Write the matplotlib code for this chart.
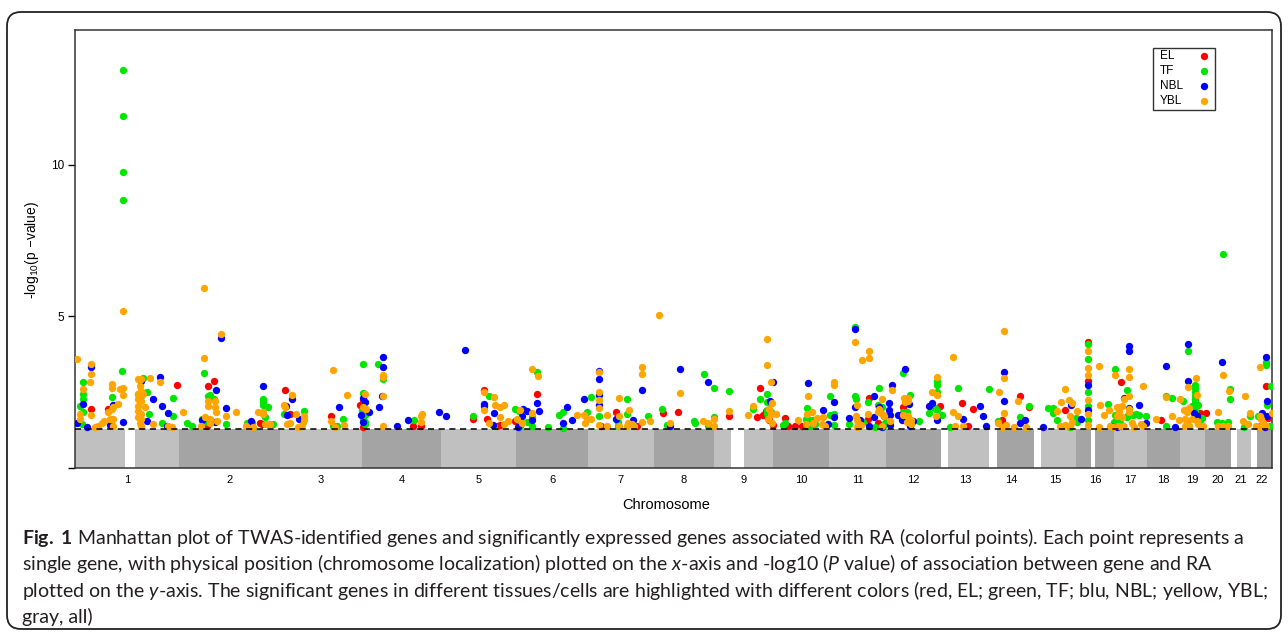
import numpy as np
import matplotlib
matplotlib.use('Agg')
import matplotlib.pyplot as plt
from matplotlib.patches import FancyBboxPatch
from matplotlib.transforms import IdentityTransform

plt.rcParams['font.family'] = ['Liberation Sans', 'DejaVu Sans']
plt.rcParams['mathtext.fontset'] = 'custom'
plt.rcParams['mathtext.rm'] = 'Lato'
plt.rcParams['mathtext.it'] = 'Lato:italic'
plt.rcParams['mathtext.bf'] = 'Lato:bold'

# chromosome sizes (Mb, hg19) and gene-free gaps (centromere / p-arm)
chrom_names = [str(i) for i in range(1, 23)]
chrom_len = [249.25, 243.20, 198.02, 191.15, 180.92, 171.12, 159.14, 146.36,
             141.21, 135.53, 135.01, 133.85, 115.17, 107.35, 102.53, 90.35,
             81.20, 78.08, 59.13, 63.03, 48.13, 51.30]
gaps = {1: (121, 144), 9: (39, 70), 13: (0, 17), 14: (0, 19), 15: (0, 17),
        16: (35, 46), 21: (0, 14), 22: (0, 16)}
threshold = 1.3          # -log10(0.05)
background_top = 1.27    # all genes (gray) stay under the threshold

# significant genes: (genome position in Mb, -log10 p)
el = [(38.5, 1.96), (80, 1.94), (245, 2.75), (335, 2.87), (321, 2.71), (318, 1.39), (445, 1.48),
      (449, 1.45), (505, 2.57), (517, 1.78), (615, 1.70), (686, 2.07), (693, 2.25), (692, 1.34),
      (814, 1.37), (832, 1.37), (957, 1.61), (984, 2.57), (992, 1.61), (1015, 1.37), (1023, 1.41),
      (1060, 1.54), (1113, 2.44), (1266, 1.38), (1301, 1.85), (1352, 1.37), (1416, 1.81),
      (1451, 1.83), (1575, 1.72), (1641, 1.67), (1649, 2.64), (1655, 1.74), (1663, 1.88),
      (1671, 1.58), (1681, 1.41), (1709, 1.64), (1715, 1.37), (1733, 1.37), (1750, 1.37),
      (1761, 1.39), (1912, 2.32), (1909, 1.63), (1933, 1.50), (1994, 2.00), (2082, 2.03),
      (2136, 2.13), (2150, 1.37), (2162, 1.96), (2230, 1.59), (2275, 2.36), (2297, 2.00),
      (2384, 1.92), (2438, 4.17), (2438, 2.86), (2518, 2.82), (2522, 1.37), (2614, 1.59),
      (2708, 1.80), (2722, 1.81), (2867, 2.70), (2872, 1.65)]

tf = [(115, 13.13), (115, 11.61), (115, 9.77), (115, 8.82),
      (18.5, 2.82), (18.5, 2.43), (18.5, 2.29), (12, 2.04), (18.5, 1.85), (16, 1.45),
      (90, 2.35), (112, 3.19), (163, 2.97), (152, 2.45), (160, 2.38), (174, 2.51), (179, 1.79),
      (209, 1.47), (237, 2.32), (237, 1.72), (269, 1.49), (282, 1.38),
      (311, 3.13), (325, 2.41), (321, 2.36), (335, 2.27), (305, 1.61), (317, 1.52), (363, 1.46),
      (413, 1.50), (425, 1.50),
      (452, 2.29), (452, 2.18), (452, 2.07), (465, 2.00), (457, 1.67), (477, 1.45), (503, 1.78),
      (550, 1.87), (548, 1.52), (646, 1.63), (622, 1.37), (630, 1.37),
      (692, 3.44), (692, 2.47), (690, 1.90), (700, 1.78), (692, 1.63), (698, 1.52), (698, 1.45),
      (730, 3.44), (741, 2.95), (816, 1.57),
      (957, 1.72), (997, 2.38), (1009, 1.39), (1060, 1.96), (1069, 1.88), (1071, 1.40),
      (1089, 1.52), (1113, 3.15), (1101, 1.67), (1101, 1.37), (1139, 1.36),
      (1165, 1.75), (1175, 1.85), (1175, 1.33), (1232, 1.83), (1242, 2.34), (1261, 1.70),
      (1308, 1.52), (1306, 1.40), (1328, 2.27), (1328, 1.77), (1380, 1.72),
      (1412, 1.96), (1424, 1.42), (1491, 1.56), (1492, 1.47), (1515, 3.10), (1524, 1.37),
      (1538, 2.63), (1538, 1.69), (1575, 2.54),
      (1633, 1.94), (1649, 2.29), (1665, 2.43), (1665, 2.18), (1673, 2.13), (1665, 1.92),
      (1675, 1.86), (1665, 1.78), (1709, 1.50), (1703, 1.43),
      (1762, 1.97), (1759, 1.61), (1767, 1.59), (1777, 1.59), (1769, 1.37), (1781, 1.45),
      (1816, 2.36), (1816, 1.74), (1827, 1.77), (1827, 1.41),
      (1864, 1.45), (1877, 4.66), (1877, 2.38), (1880, 2.29), (1896, 1.52), (1909, 2.16),
      (1926, 1.36), (1936, 2.65), (1933, 2.07), (1942, 2.00), (1950, 1.50), (1945, 1.39),
      (1953, 1.50),
      (1994, 3.13), (2010, 2.41), (1994, 1.83), (2003, 1.83), (2032, 1.56), (2056, 1.81),
      (2065, 2.00), (2070, 1.97), (2075, 1.92), (2075, 2.73), (2074, 2.52), (2075, 2.86),
      (2086, 1.74), (2125, 2.63), (2106, 1.36),
      (2200, 2.62), (2222, 1.56), (2275, 1.67), (2297, 2.05), (2342, 1.98), (2353, 1.98),
      (2355, 1.80), (2363, 1.59), (2394, 1.36), (2410, 1.64), (2412, 1.53),
      (2438, 4.10), (2438, 3.61), (2438, 2.49), (2438, 2.03), (2438, 1.57), (2487, 2.10),
      (2503, 3.28), (2503, 1.76), (2511, 1.65), (2501, 1.53), (2515, 1.49),
      (2533, 2.57), (2535, 1.76), (2533, 1.69), (2546, 1.76), (2554, 1.78), (2562, 1.74),
      (2578, 1.72), (2625, 2.38), (2625, 1.40), (2640, 2.30), (2668, 2.21), (2678, 3.85),
      (2696, 2.74), (2696, 2.63), (2696, 2.49), (2696, 2.38), (2696, 2.27), (2696, 2.16),
      (2696, 2.05), (2696, 1.88), (2688, 2.03), (2703, 2.07), (2713, 1.64), (2708, 1.52),
      (2763, 7.04), (2748, 1.52), (2760, 1.47), (2775, 1.52), (2780, 2.62), (2780, 2.29),
      (2814, 1.36), (2827, 1.72), (2847, 1.72), (2851, 1.40), (2867, 3.51), (2867, 3.39),
      (2879, 2.69), (2868, 2.07), (2877, 1.40)]

nbl = [(38.5, 3.32), (18.5, 2.10), (4, 1.50), (28, 1.34), (84, 1.41), (92, 2.09), (116, 1.52),
       (160, 2.88), (205, 2.99), (188, 2.27), (174, 1.55), (209, 2.04), (225, 1.81), (221, 1.39),
       (351, 4.27), (339, 2.58), (363, 1.97), (305, 1.57), (337, 1.52), (423, 1.55), (452, 2.69),
       (522, 2.27), (508, 2.05), (510, 1.74), (540, 1.61), (635, 2.00),
       (692, 2.32), (698, 2.16), (708, 1.85), (688, 1.74), (692, 1.52), (741, 3.65), (741, 3.33),
       (738, 2.36), (732, 2.00), (774, 1.37), (802, 1.59), (875, 1.83), (893, 1.72),
       (938, 3.89), (984, 2.12), (984, 2.03), (1009, 1.80), (1005, 1.41), (1079, 1.96),
       (1089, 1.88), (1075, 1.70), (1067, 1.34), (1113, 2.14), (1116, 1.88), (1101, 1.59),
       (1184, 2.00), (1174, 1.47), (1196, 1.59), (1224, 2.27), (1261, 3.20), (1261, 2.93),
       (1261, 2.40), (1262, 2.08), (1301, 1.61), (1342, 1.59), (1364, 2.58), (1432, 1.40),
       (1455, 3.27), (1524, 2.82),
       (1679, 2.82), (1673, 2.21), (1764, 2.79), (1801, 1.92), (1813, 1.45), (1827, 2.18),
       (1827, 1.67), (1864, 1.65), (1877, 4.58), (1877, 2.00), (1890, 1.59), (1923, 2.36),
       (1923, 1.67), (1912, 1.39),
       (1936, 2.00), (1947, 1.70), (1942, 1.36), (1962, 1.41), (1966, 2.73), (1960, 2.13),
       (1960, 1.91), (1962, 1.75), (1982, 1.74), (1998, 3.28), (2008, 2.10), (1990, 1.58),
       (2010, 1.39), (2018, 1.54),
       (2056, 2.03), (2063, 2.13), (2074, 1.58), (2138, 1.61), (2178, 2.05), (2185, 1.72),
       (2193, 1.37), (2236, 3.17), (2236, 2.21), (2275, 1.48), (2287, 1.58), (2329, 1.34),
       (2397, 2.07), (2421, 1.63), (2438, 2.73), (2439, 1.91), (2493, 1.40), (2507, 1.34),
       (2526, 2.32), (2538, 4.02), (2538, 3.85), (2538, 1.97), (2562, 2.07), (2578, 1.50),
       (2625, 3.35), (2648, 1.34), (2678, 4.08), (2678, 2.86), (2693, 1.81), (2700, 1.70),
       (2760, 3.51), (2867, 3.66), (2870, 2.21), (2858, 1.80), (2868, 1.72), (2865, 1.36)]

ybl = [(4, 3.61), (38.5, 3.44), (38.5, 3.10), (36, 2.82), (18.5, 2.62), (12, 1.78), (12, 1.63),
       (38.5, 1.74), (48, 1.34), (56, 1.39), (64, 1.48), (70, 1.56),
       (80, 1.85), (88, 1.94), (92, 2.00), (90, 2.76), (90, 2.65), (84, 1.63), (92, 1.63),
       (91, 1.38), (115, 5.19), (108, 2.60), (116, 2.63), (115, 2.40), (104, 2.10),
       (152, 2.93), (160, 2.93), (156, 2.71), (158, 2.54), (163, 2.43), (152, 2.43), (152, 2.27),
       (160, 2.21), (168, 2.00), (152, 2.05), (152, 1.88), (158, 1.78), (152, 1.67), (160, 1.61),
       (156, 1.48), (160, 1.39),
       (180, 2.96), (205, 2.82), (187, 1.45), (225, 1.38), (233, 1.36), (259, 1.84),
       (310.5, 5.92), (311, 3.63), (321, 2.21), (337, 2.21), (321, 2.03), (337, 2.00),
       (339, 1.85), (313, 1.67), (325, 1.63), (341, 1.56), (325, 1.50),
       (351, 4.43), (363, 1.72), (387, 1.85), (303, 1.39), (411, 1.38), (429, 1.36), (441, 1.83),
       (452, 1.83), (452, 1.78), (461, 1.45), (457, 1.45), (469, 1.45),
       (522, 2.40), (503, 2.07), (505, 2.02), (532, 1.78), (510, 1.45), (517, 1.49), (550, 1.70),
       (550, 1.59), (537, 1.36), (546, 1.41),
       (622, 3.23), (654, 2.42), (615, 1.56), (647, 1.42), (626, 1.36), (698, 2.43), (694, 2.00),
       (700, 1.94), (741, 3.06), (741, 3.00), (741, 2.36), (741, 1.39),
       (834, 1.77), (832, 1.70), (832, 1.52),
       (984, 2.49), (984, 1.92), (1009, 2.34), (1011, 2.07), (1023, 2.00), (1033, 2.09),
       (1024, 1.67), (997, 1.47), (1033, 1.45), (1042, 1.55), (1071, 1.91), (1065, 1.63),
       (1075, 1.48),
       (1101, 3.28), (1114, 3.04), (1099, 1.81), (1208, 1.75), (1224, 1.75), (1232, 1.63),
       (1241, 1.61), (1228, 1.48),
       (1261, 3.15), (1261, 2.52), (1261, 2.23), (1261, 1.97), (1261, 1.41), (1280, 1.74),
       (1280, 1.40), (1310, 2.31), (1310, 1.70), (1310, 1.39), (1334, 1.92), (1332, 1.50),
       (1340, 1.45), (1346, 1.39), (1328, 1.39),
       (1364, 3.33), (1364, 3.11), (1364, 1.53), (1405, 5.04), (1384, 1.56), (1432, 1.50),
       (1456, 2.46), (1512, 1.56), (1524, 1.48), (1538, 1.61), (1538, 1.39), (1575, 1.88),
       (1619, 1.75), (1633, 2.03), (1665, 4.25), (1665, 3.40), (1675, 2.82), (1677, 2.14),
       (1671, 1.96), (1675, 1.78), (1687, 1.78), (1669, 1.61), (1677, 1.48),
       (1741, 1.58), (1764, 2.39), (1762, 1.78), (1773, 1.83), (1759, 1.45), (1777, 1.48),
       (1785, 1.64), (1801, 1.67), (1797, 1.45), (1805, 1.37), (1827, 2.82), (1827, 2.75),
       (1881, 2.07), (1877, 4.15), (1880, 1.72), (1881, 1.59), (1885, 1.48), (1892, 1.41),
       (1881, 1.34), (1894, 3.56), (1912, 3.85), (1912, 3.63), (1909, 1.78),
       (1942, 2.27), (1936, 1.94), (1933, 1.83), (1942, 1.78), (1946, 1.70), (1942, 1.40),
       (1966, 2.58), (1962, 1.56),
       (1995, 2.32), (2006, 2.30), (2006, 2.21), (1998, 2.18), (1992, 1.74), (2006, 1.70),
       (2011, 1.59), (2002, 1.52), (2011, 1.45),
       (2063, 2.49), (2075, 2.41), (2075, 2.99), (2072, 1.72), (2113, 3.66), (2114, 1.83),
       (2126, 1.70), (2118, 1.40), (2138, 1.40),
       (2236, 4.52), (2236, 2.97), (2225, 2.51), (2236, 1.81), (2222, 1.50), (2232, 1.36),
       (2240, 1.41), (2260, 1.36), (2270, 2.21), (2289, 1.36),
       (2364, 1.88), (2373, 2.18), (2384, 2.62), (2393, 2.25), (2400, 2.14), (2394, 1.70),
       (2400, 1.52), (2394, 1.37), (2383, 1.41), (2370, 1.37), (2412, 1.88),
       (2438, 3.86), (2438, 3.31), (2438, 3.06), (2438, 2.25), (2438, 1.78), (2438, 1.41),
       (2465, 3.35), (2467, 2.07), (2465, 1.36), (2477, 1.74), (2488, 1.92),
       (2503, 3.05), (2507, 2.00), (2519, 2.05), (2513, 1.87), (2507, 1.72), (2519, 1.67),
       (2491, 1.40), (2499, 1.36), (2511, 1.40), (2523, 1.40),
       (2526, 2.29), (2538, 2.39), (2538, 3.28), (2538, 2.99), (2538, 1.94), (2538, 1.83),
       (2544, 1.48), (2548, 1.34), (2571, 2.71), (2565, 1.45), (2570, 1.37),
       (2602, 1.61), (2626, 2.33), (2640, 1.72), (2656, 1.58), (2660, 2.29), (2670, 1.90),
       (2677, 1.85), (2681, 1.97), (2678, 2.67), (2672, 1.61), (2677, 1.48), (2681, 1.40),
       (2672, 1.40),
       (2697, 2.97), (2700, 2.42), (2688, 1.61), (2700, 1.56), (2704, 1.45), (2716, 1.40),
       (2762, 3.05), (2752, 1.83), (2752, 1.40), (2764, 1.37), (2776, 1.40), (2778, 2.55),
       (2816, 2.38), (2812, 1.56), (2824, 1.45), (2827, 1.80), (2851, 3.33), (2880, 1.80),
       (2851, 1.72), (2855, 1.61), (2859, 1.50), (2843, 1.40), (2853, 1.36), (2866, 1.39)]

series = [('EL', el, '#ff0000'), ('TF', tf, '#00e600'),
          ('NBL', nbl, '#0000ff'), ('YBL', ybl, '#ffa500')]

caption = [
    r"$\mathbf{Fig.}$ $\mathbf{1}$ Manhattan plot of TWAS-identified genes and significantly expressed genes associated with RA (colorful points). Each point represents a",
    r"single gene, with physical position (chromosome localization) plotted on the $\mathit{x}$-axis and -log10 ($\mathit{P}$ value) of association between gene and RA",
    r"plotted on the $\mathit{y}$-axis. The significant genes in different tissues/cells are highlighted with different colors (red, EL; green, TF; blu, NBL; yellow, YBL;",
    "gray, all)",
]

W, H = 1288, 632
fig = plt.figure(figsize=(W / 100, H / 100), dpi=100)
ax = fig.add_axes([75 / W, 1 - 468 / H, 1197 / W, 438 / H])

starts = np.concatenate([[0], np.cumsum(chrom_len)[:-1]])
centers = starts + np.array(chrom_len) / 2

# all genes: dense gray band under the threshold, alternating shade per chromosome
for i, (s, L) in enumerate(zip(starts, chrom_len)):
    col = '#c0c0c0' if i % 2 == 0 else '#a4a4a4'
    segs = [(0, L)]
    if i + 1 in gaps:
        g0, g1 = gaps[i + 1]
        segs = [(a, b) for a, b in [(0, g0), (g1, L)] if b > a]
    for a, b in segs:
        ax.bar(s + a, background_top, width=b - a, align='edge', color=col, linewidth=0)

for name, pts, col in series:
    x = [p[0] for p in pts]
    y = [p[1] for p in pts]
    ax.scatter(x, y, s=28, color=col, linewidths=0, zorder=3)

ax.axhline(threshold, color='black', lw=1.1, ls=(0, (4, 3)), zorder=4)

ax.set_xlim(0, sum(chrom_len))
ax.set_ylim(0, 14.44)
ax.set_yticks([0, 5, 10])
ax.set_yticklabels(['', '5', '10'])
ax.set_xticks(centers)
ax.set_xticklabels(chrom_names)
ax.tick_params(axis='x', length=0, pad=5, labelsize=8)
ax.tick_params(axis='y', length=5, width=1, pad=3, labelsize=8.5)
for sp in ax.spines.values():
    sp.set_linewidth(1.1)
    sp.set_color('#333333')

# legend box
lx0, lx1 = (1153 - 75) / 1197, (1215 - 75) / 1197
ly0, ly1 = (468 - 110) / 438, (468 - 48) / 438
ax.add_patch(plt.Rectangle((lx0, ly0), lx1 - lx0, ly1 - ly0, transform=ax.transAxes,
                           fill=False, ec='#333333', lw=1, zorder=5))
for k, (name, pts, col) in enumerate(series):
    yy = (468 - (56 + 15 * k)) / 438
    ax.text((1160 - 75) / 1197, yy, name, transform=ax.transAxes, fontsize=8.5,
            va='center', ha='left', zorder=6)
    ax.scatter([(1204 - 75) / 1197], [yy], s=28, color=col, linewidths=0,
               transform=ax.transAxes, zorder=6, clip_on=False)

fig.text(32 / W, 1 - 250 / H, r'-log$_{10}$(p $-$value)', rotation=90,
         ha='center', va='center', fontsize=10)
fig.text(666 / W, 1 - 505 / H, 'Chromosome', ha='center', va='center', fontsize=10.5)

# caption, scaled so the widest line fills the width of the panel
texts = []
for j, line in enumerate(caption):
    t = fig.text(22 / W, 1 - (544 + 26.3 * j) / H, line, family='Lato',
                 fontsize=12, ha='left', va='baseline', color='#231f20')
    texts.append(t)
fig.canvas.draw()
w = max(t.get_window_extent().width for t in texts)
fs = 12 * 1242 / w
for t in texts:
    t.set_fontsize(fs)

# rounded frame around the figure panel
frame = FancyBboxPatch((7, 3), 1274, 617, boxstyle='round,pad=0,rounding_size=14',
                       transform=IdentityTransform(), fill=False, ec='#222222', lw=1.3)
fig.add_artist(frame)

fig.savefig('out.png', dpi=100)
